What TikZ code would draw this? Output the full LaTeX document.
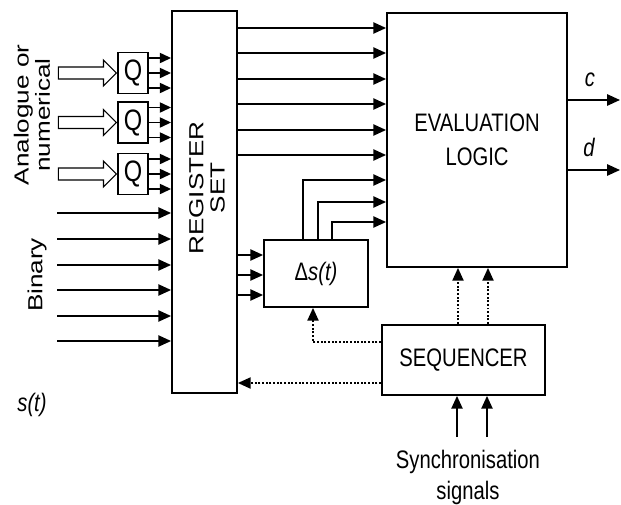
\documentclass[tikz,border=0pt]{standalone}
\usepackage{fontspec}
\setmainfont{Liberation Sans}
\newfontfamily\narrowsf[FakeStretch=0.8]{Liberation Sans}
\newfontfamily\widesf[FakeStretch=1.28]{Liberation Sans}
\usetikzlibrary{arrows.meta,positioning,calc,shapes.arrows}
\tikzset{
  blk/.style={draw=black, line width=1.3pt, inner sep=0pt},
  qbox/.style={draw=black, line width=1.1pt, inner sep=0pt,
               minimum width=7.5mm, minimum height=10.25mm,
               font=\narrowsf\fontsize{21}{22}\selectfont},
  holarrow/.style={single arrow, draw=black, line width=0.8pt, inner sep=1.35mm,
                   minimum height=14.5mm, single arrow head extend=1.75mm},
  sig/.style={line width=1.3pt, -{Triangle[length=3.2mm,width=2.8mm]}},
  qsig/.style={line width=1.3pt, -{Triangle[length=2.8mm,width=2.5mm]}},
  ctl/.style={line width=1.2pt, dash pattern=on 1.4pt off 1.2pt,
              -{Triangle[length=3.2mm,width=2.8mm]}},
  txt/.style={font=\narrowsf\fontsize{18}{22}\selectfont, align=center, inner sep=0pt},
  itxt/.style={font=\narrowsf\itshape\fontsize{18}{22}\selectfont, inner sep=0pt},
  vtxt/.style={font=\widesf\fontsize{14.5}{15}\selectfont, align=center,
               inner sep=0pt, rotate=90},
}

\begin{document}
\begin{tikzpicture}[x=0.25mm, y=-0.25mm]
  \useasboundingbox (0,0) rectangle (621,504);
  % blocks
  \node[blk, minimum width=16.25mm, minimum height=95.5mm] (reg) at (204.5,202) {};
  \node[vtxt] (regtxt) at (207,188) {REGISTER\\SET};
  \node[blk, minimum width=45mm, minimum height=63.5mm] (eval) at (477,140) {};
  \node[txt, text depth=0pt] (evaltxt) at (eval.center) {EVALUATION\\[2pt]LOGIC};
  \node[blk, minimum width=26mm, minimum height=16.75mm, txt] (ds) at (316,273.5)
       {Δ\itshape s(t)};
  \node[blk, minimum width=40.75mm, minimum height=17.5mm, txt] (seq) at (463.5,360) {SEQUENCER};

  % analogue inputs through the quantisers
  \foreach \qy [count=\i] in {73,122.5,174} {
    \node[qbox] (q\i) at (133,\qy) {Q};
    \node[holarrow, anchor=tip] (h\i) at (q\i.west) {};
    \foreach \o in {-15,0,15} {
      \pgfmathsetmacro{\ay}{\qy+\o}
      \draw[qsig] (q\i.east |- 0,\ay) -- (reg.west |- 0,\ay);
    }
  }
  \node[vtxt] (analog) at (32,115) {Analogue or\\numerical};

  % binary inputs
  \foreach \y [count=\i] in {213,239,265,290,316,341} {
    \coordinate (b\i) at (57,\y);
    \draw[sig] (b\i) -- (b\i -| reg.west);
  }
  \node[vtxt] (binary) at (37,275) {Binary};
  \node[itxt] (st) at (32,405) {s(t)};

  % register set to evaluation logic and to the difference block
  \foreach \y in {28,53,79,104,130,155}
    \draw[sig] (reg.east |- 0,\y) -- (eval.west |- 0,\y);
  \foreach \y in {255,275,295}
    \draw[sig] (reg.east |- 0,\y) -- (ds.west |- 0,\y);
  \foreach \x/\y in {303/180,318/202,332/222}
    \draw[sig] (ds.north -| \x,0) |- (eval.west |- 0,\y);

  % outputs
  \coordinate (cout) at (620,100);
  \coordinate (dout) at (620,170);
  \draw[sig] (eval.east |- cout) -- (cout);
  \draw[sig] (eval.east |- dout) -- (dout);
  \node[itxt] (clab) at (590,80) {c};
  \node[itxt] (dlab) at (589,147) {d};

  % sequencer control
  \foreach \x in {458,488}
    \draw[ctl] (seq.north -| \x,0) -- (eval.south -| \x,0);
  \draw[ctl] (seq.west |- 0,342) -| (ds.south -| 313,0);
  \draw[ctl] (seq.west |- 0,383) -- (reg.east |- 0,383);

  % synchronisation
  \foreach \x [count=\i] in {457,487} {
    \coordinate (y\i) at (\x,437);
    \draw[sig] (y\i) -- (y\i |- seq.south);
  }
  \node[txt] (sync) at (468,477) {Synchronisation\\signals};
\end{tikzpicture}
\end{document}
